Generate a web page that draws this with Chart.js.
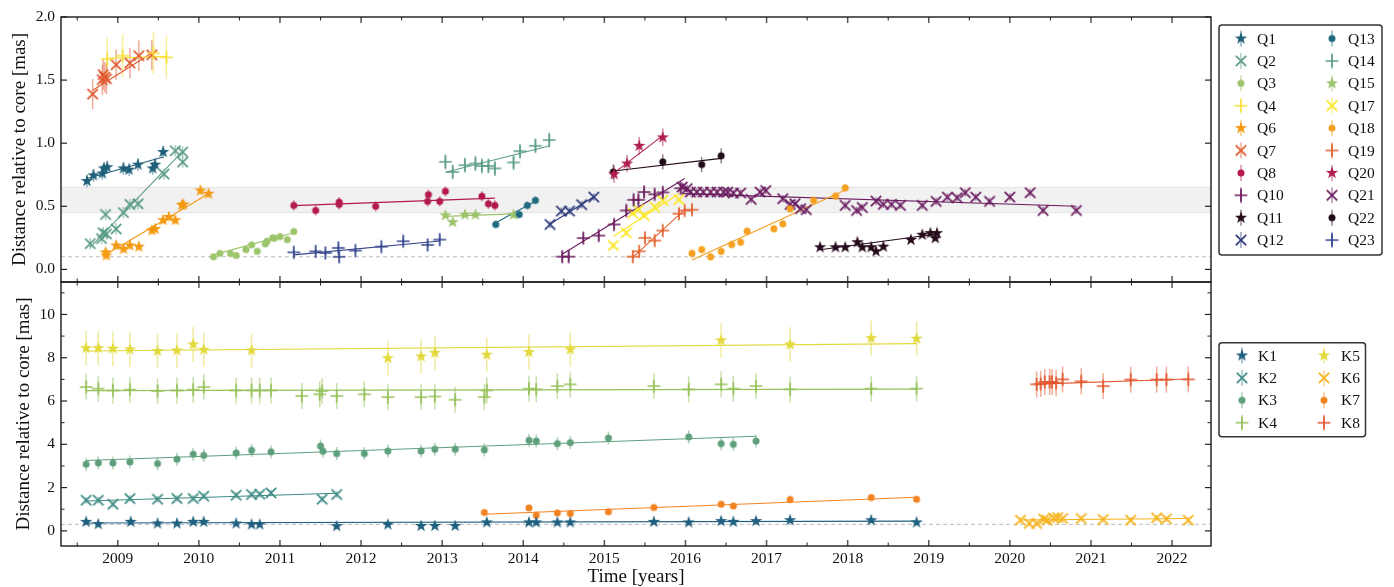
<!DOCTYPE html>
<html>
<head>
<meta charset="utf-8">
<script src="https://cdn.jsdelivr.net/npm/chart.js@4.4.1/dist/chart.umd.min.js"></script>
<style>
  html, body { margin: 0; padding: 0; background: #fff; }
  #wrap { position: relative; width: 1394px; height: 587px; overflow: hidden; }
  canvas { position: absolute; left: 0; }
  #top { top: 0; }
  #bottom { top: 280px; }
</style>
</head>
<body>
<div id="wrap">
  <canvas id="top" width="1394" height="284"></canvas>
  <canvas id="bottom" width="1394" height="307"></canvas>
</div>
<script>
// ---- data: epoch [years], distance [mas], fit = [t0, d0, t1, d1] ----
const q1Year = [2008.62, 2008.70, 2008.81, 2008.83, 2008.87, 2009.07, 2009.14, 2009.25, 2009.43, 2009.46, 2009.56];
const q1Dist = [0.70, 0.745, 0.76, 0.80, 0.81, 0.80, 0.79, 0.83, 0.80, 0.83, 0.93];
const q1Fit = [2008.62, 0.72, 2009.56, 0.89];

const q2Year = [2008.66, 2008.80, 2008.82, 2008.85, 2008.86, 2008.98, 2009.07, 2009.15, 2009.25, 2009.57, 2009.71, 2009.80, 2009.80];
const q2Dist = [0.204, 0.244, 0.29, 0.435, 0.28, 0.32, 0.45, 0.515, 0.52, 0.755, 0.94, 0.93, 0.85];
const q2Fit = [2008.66, 0.175, 2009.80, 0.935];

const q3Year = [2010.18, 2010.26, 2010.39, 2010.46, 2010.58, 2010.65, 2010.72, 2010.82, 2010.84, 2010.91, 2010.93, 2011.00, 2011.09, 2011.17];
const q3Dist = [0.10, 0.127, 0.127, 0.11, 0.157, 0.194, 0.143, 0.202, 0.223, 0.25, 0.247, 0.26, 0.236, 0.30];
const q3Fit = [2010.18, 0.115, 2011.17, 0.29];

const q4Year = [2008.87, 2009.06, 2009.44, 2009.60];
const q4Dist = [1.667, 1.693, 1.713, 1.68];
const q4Fit = [2008.87, 1.672, 2009.60, 1.688];

const q6Year = [2008.85, 2008.86, 2008.98, 2009.07, 2009.15, 2009.26, 2009.42, 2009.46, 2009.56, 2009.63, 2009.71, 2009.79, 2009.81, 2010.02, 2010.12];
const q6Dist = [0.135, 0.11, 0.19, 0.162, 0.19, 0.18, 0.31, 0.32, 0.39, 0.415, 0.39, 0.51, 0.515, 0.625, 0.60];
const q6Fit = [2008.86, 0.12, 2010.12, 0.60];

const q7Year = [2008.69, 2008.81, 2008.82, 2008.84, 2008.86, 2008.98, 2009.15, 2009.26, 2009.42];
const q7Dist = [1.389, 1.503, 1.543, 1.524, 1.51, 1.622, 1.635, 1.693, 1.70];
const q7Fit = [2008.69, 1.42, 2009.42, 1.715];

const q8Year = [2011.17, 2011.44, 2011.73, 2011.73, 2012.18, 2012.82, 2012.83, 2012.97, 2013.04, 2013.49, 2013.57, 2013.65];
const q8Dist = [0.507, 0.467, 0.533, 0.515, 0.50, 0.539, 0.592, 0.539, 0.619, 0.58, 0.52, 0.507];
const q8Fit = [2011.17, 0.505, 2013.65, 0.565];

const q10Year = [2014.48, 2014.56, 2014.74, 2014.93, 2015.12, 2015.27, 2015.36, 2015.42, 2015.49, 2015.62, 2015.72, 2015.94];
const q10Dist = [0.101, 0.101, 0.248, 0.268, 0.356, 0.467, 0.551, 0.551, 0.613, 0.595, 0.61, 0.643];
const q10Fit = [2014.48, 0.12, 2015.99, 0.72];

const q11Year = [2017.66, 2017.85, 2017.97, 2018.12, 2018.18, 2018.29, 2018.35, 2018.44, 2018.78, 2018.92, 2019.02, 2019.08, 2019.10];
const q11Dist = [0.175, 0.175, 0.175, 0.215, 0.175, 0.175, 0.143, 0.18, 0.234, 0.274, 0.287, 0.247, 0.287];
const q11Fit = [2017.66, 0.155, 2019.10, 0.28];

const q12Year = [2014.33, 2014.47, 2014.57, 2014.72, 2014.87];
const q12Dist = [0.356, 0.462, 0.462, 0.513, 0.573];
const q12Fit = [2014.33, 0.36, 2014.87, 0.575];

const q13Year = [2013.66, 2013.95, 2014.05, 2014.15];
const q13Dist = [0.356, 0.435, 0.507, 0.547];
const q13Fit = [2013.66, 0.37, 2014.15, 0.54];

const q14Year = [2013.04, 2013.13, 2013.28, 2013.41, 2013.49, 2013.57, 2013.65, 2013.88, 2013.96, 2014.15, 2014.32];
const q14Dist = [0.852, 0.772, 0.826, 0.839, 0.82, 0.82, 0.80, 0.847, 0.937, 0.979, 1.025];
const q14Fit = [2013.04, 0.77, 2014.33, 0.98];

const q15Year = [2013.04, 2013.13, 2013.28, 2013.41, 2013.88];
const q15Dist = [0.428, 0.374, 0.433, 0.433, 0.433];
const q15Fit = [2013.04, 0.42, 2013.88, 0.44];

const q17Year = [2015.11, 2015.27, 2015.35, 2015.42, 2015.49, 2015.62, 2015.72, 2015.92];
const q17Dist = [0.189, 0.29, 0.446, 0.473, 0.428, 0.494, 0.547, 0.553];
const q17Fit = [2015.11, 0.26, 2015.92, 0.60];

const q18Year = [2016.08, 2016.20, 2016.31, 2016.44, 2016.57, 2016.68, 2016.76, 2017.09, 2017.20, 2017.29, 2017.58, 2017.85, 2017.97];
const q18Dist = [0.127, 0.157, 0.10, 0.143, 0.197, 0.215, 0.303, 0.322, 0.361, 0.48, 0.547, 0.581, 0.646];
const q18Fit = [2016.08, 0.075, 2017.97, 0.63];

const q19Year = [2015.35, 2015.43, 2015.50, 2015.62, 2015.72, 2015.92, 2015.99, 2016.08];
const q19Dist = [0.101, 0.143, 0.25, 0.228, 0.308, 0.441, 0.467, 0.473];
const q19Fit = [2015.35, 0.095, 2016.00, 0.48];

const q20Year = [2015.12, 2015.28, 2015.43, 2015.72];
const q20Dist = [0.754, 0.839, 0.979, 1.046];
const q20Fit = [2015.12, 0.765, 2015.72, 1.06];

const q21Year = [2015.96, 2016.02, 2016.06, 2016.14, 2016.22, 2016.31, 2016.39, 2016.47, 2016.52, 2016.59, 2016.68, 2016.81, 2016.92, 2016.99,
  2017.20, 2017.29, 2017.35, 2017.42, 2017.49, 2017.97, 2018.11, 2018.18, 2018.35, 2018.44, 2018.54, 2018.65, 2018.92, 2019.09,
  2019.23, 2019.35, 2019.45, 2019.58, 2019.75, 2020.00, 2020.25, 2020.41, 2020.82];
const q21Dist = [0.653, 0.64, 0.613, 0.613, 0.613, 0.613, 0.613, 0.613, 0.613, 0.605, 0.605, 0.555, 0.613, 0.625,
  0.56, 0.515, 0.52, 0.481, 0.473, 0.507, 0.467, 0.49, 0.541, 0.515, 0.515, 0.507, 0.507, 0.539,
  0.573, 0.568, 0.608, 0.573, 0.539, 0.573, 0.608, 0.467, 0.467];
const q21Fit = [2015.96, 0.60, 2020.82, 0.50];

const q22Year = [2015.11, 2015.72, 2016.20, 2016.44];
const q22Dist = [0.772, 0.852, 0.831, 0.90];
const q22Fit = [2015.11, 0.78, 2016.44, 0.88];

const q23Year = [2011.17, 2011.44, 2011.56, 2011.72, 2011.73, 2011.93, 2012.25, 2012.52, 2012.82, 2012.97];
const q23Dist = [0.135, 0.143, 0.13, 0.17, 0.10, 0.149, 0.18, 0.223, 0.194, 0.236];
const q23Fit = [2011.17, 0.115, 2012.97, 0.225];

const k1Year = [2008.61, 2008.76, 2009.16, 2009.49, 2009.73, 2009.93, 2010.06, 2010.46, 2010.65, 2010.75, 2011.70, 2012.33, 2012.74, 2012.91,
  2013.16, 2013.55, 2014.07, 2014.16, 2014.42, 2014.58, 2015.61, 2016.04, 2016.44, 2016.59, 2016.87, 2017.29, 2018.29, 2018.85];
const k1Dist = [0.415, 0.31, 0.415, 0.34, 0.34, 0.415, 0.415, 0.34, 0.295, 0.295, 0.217, 0.295, 0.23, 0.23,
  0.23, 0.39, 0.39, 0.39, 0.39, 0.39, 0.415, 0.39, 0.45, 0.415, 0.45, 0.49, 0.49, 0.39];
const k1Fit = [2008.61, 0.36, 2018.85, 0.45];

const k2Year = [2008.61, 2008.76, 2008.94, 2009.15, 2009.49, 2009.73, 2009.93, 2010.06, 2010.46, 2010.65, 2010.75, 2010.89, 2011.52, 2011.70];
const k2Dist = [1.417, 1.417, 1.23, 1.495, 1.463, 1.495, 1.495, 1.60, 1.647, 1.68, 1.694, 1.754, 1.463, 1.68];
const k2Fit = [2008.61, 1.38, 2011.70, 1.74];

const k3Year = [2008.61, 2008.76, 2008.94, 2009.15, 2009.49, 2009.73, 2009.93, 2010.06, 2010.46, 2010.65, 2010.89, 2011.50, 2011.53, 2011.70,
  2012.04, 2012.33, 2012.74, 2012.91, 2013.16, 2013.52, 2014.07, 2014.16, 2014.42, 2014.58, 2015.05, 2016.04, 2016.44, 2016.59, 2016.87];
const k3Dist = [3.078, 3.138, 3.138, 3.184, 3.11, 3.31, 3.54, 3.49, 3.60, 3.72, 3.65, 3.92, 3.68, 3.57,
  3.57, 3.69, 3.69, 3.77, 3.77, 3.74, 4.185, 4.15, 4.03, 4.08, 4.29, 4.34, 4.03, 4.00, 4.15];
const k3Fit = [2008.61, 3.25, 2016.87, 4.37];

const k4Year = [2008.61, 2008.76, 2008.94, 2009.15, 2009.49, 2009.73, 2009.93, 2010.06, 2010.46, 2010.65, 2010.75, 2010.89, 2011.27, 2011.49,
  2011.52, 2011.70, 2012.04, 2012.33, 2012.74, 2012.91, 2013.16, 2013.52, 2013.55, 2014.07, 2014.16, 2014.42, 2014.58, 2015.61,
  2016.04, 2016.44, 2016.59, 2016.87, 2017.29, 2018.29, 2018.85];
const k4Dist = [6.645, 6.57, 6.49, 6.525, 6.46, 6.49, 6.525, 6.645, 6.49, 6.49, 6.49, 6.49, 6.23, 6.31,
  6.46, 6.23, 6.31, 6.18, 6.18, 6.21, 6.06, 6.18, 6.49, 6.57, 6.54, 6.69, 6.77, 6.69,
  6.54, 6.77, 6.57, 6.69, 6.54, 6.57, 6.57];
const k4Fit = [2008.61, 6.48, 2018.85, 6.55];

const k5Year = [2008.61, 2008.76, 2008.94, 2009.15, 2009.49, 2009.73, 2009.93, 2010.06, 2010.65, 2012.33, 2012.74, 2012.91, 2013.55,
  2014.07, 2014.58, 2016.44, 2017.29, 2018.29, 2018.85];
const k5Dist = [8.445, 8.445, 8.42, 8.385, 8.31, 8.34, 8.616, 8.37, 8.34, 7.98, 8.06, 8.23, 8.14,
  8.26, 8.385, 8.80, 8.616, 8.906, 8.88];
const k5Fit = [2008.61, 8.31, 2018.85, 8.65];

const k6Year = [2020.13, 2020.24, 2020.33, 2020.42, 2020.46, 2020.54, 2020.59, 2020.65, 2020.88, 2021.15, 2021.49, 2021.81, 2021.93, 2022.20];
const k6Dist = [0.494, 0.34, 0.34, 0.54, 0.494, 0.60, 0.62, 0.57, 0.57, 0.526, 0.494, 0.60, 0.554, 0.494];
const k6Fit = [2020.13, 0.50, 2022.20, 0.57];

const k7Year = [2013.52, 2014.07, 2014.16, 2014.42, 2014.58, 2015.05, 2015.61, 2016.44, 2016.59, 2017.29, 2018.29, 2018.85];
const k7Dist = [0.85, 1.06, 0.72, 0.83, 0.80, 0.88, 1.08, 1.23, 1.15, 1.45, 1.54, 1.46];
const k7Fit = [2013.52, 0.77, 2018.85, 1.55];

const k8Year = [2020.33, 2020.38, 2020.43, 2020.49, 2020.52, 2020.57, 2020.65, 2020.88, 2021.15, 2021.49, 2021.81, 2021.93, 2022.20];
const k8Dist = [6.77, 6.80, 6.88, 6.88, 6.88, 6.83, 7.00, 6.91, 6.69, 6.99, 6.99, 6.99, 7.00];
const k8Fit = [2020.33, 6.78, 2022.20, 7.02];

// typical 1-sigma error per component [mas]
const qNames = ['Q1', 'Q2', 'Q3', 'Q4', 'Q6', 'Q7', 'Q8', 'Q10', 'Q11', 'Q12', 'Q13', 'Q14', 'Q15', 'Q17', 'Q18', 'Q19', 'Q20', 'Q21', 'Q22', 'Q23'];
const qErrors = [0.05, 0.045, 0.02, 0.17, 0.035, 0.12, 0.04, 0.035, 0.02, 0.03, 0.03, 0.06, 0.02, 0.025, 0.03, 0.02, 0.07, 0.03, 0.06, 0.02];
const kNames = ['K1', 'K2', 'K3', 'K4', 'K5', 'K6', 'K7', 'K8'];
const kErrors = [0.12, 0.15, 0.3, 0.6, 0.8, 0.15, 0.1, 0.6];

const yearTicks = [2009, 2010, 2011, 2012, 2013, 2014, 2015, 2016, 2017, 2018, 2019, 2020, 2021, 2022];
const topTicks = [0, 0.5, 1.0, 1.5, 2.0];
const bottomTicks = [0, 2, 4, 6, 8, 10];
const bottomMinor = [1, 3, 5, 7, 9, 11];

// ---- styles ----
const qColors = ['#1f6079', '#5a9b87', '#9cc46a', '#f7e03a', '#f49a12', '#e0592e', '#b3194c', '#6b1c5e', '#260b1c', '#2e3a7c',
  '#1f6a7e', '#5b9d86', '#9cc36a', '#fde725', '#f5a020', '#e3602e', '#b01e50', '#6a1b5f', '#200c18', '#34468f'];
const kColors = ['#1f5f7f', '#3d8c84', '#5e9f7c', '#95c25a', '#e2d93c', '#f6b21a', '#f28321', '#e3572e'];
const shapes = ['star', 'x', 'dot', 'plus'];

const FONT = '"Liberation Serif", "DejaVu Serif", serif';
Chart.defaults.font.family = FONT;
Chart.defaults.color = '#111';

function fade(hex, a) {
  const n = parseInt(hex.slice(1), 16);
  return 'rgba(' + (n >> 16) + ',' + ((n >> 8) & 255) + ',' + (n & 255) + ',' + a + ')';
}

// marker drawn once into a small canvas, then used as pointStyle
function makeMarker(shape, color) {
  const size = 16;
  const c = document.createElement('canvas');
  c.width = c.height = size;
  const g = c.getContext('2d');
  g.translate(size / 2, size / 2);
  g.fillStyle = color;
  g.strokeStyle = color;
  g.lineWidth = 1.7;
  if (shape === 'star') {
    g.beginPath();
    for (let i = 0; i < 10; i++) {
      const r = i % 2 ? 2.6 : 6.5;
      const a = -Math.PI / 2 + i * Math.PI / 5;
      g.lineTo(r * Math.cos(a), r * Math.sin(a));
    }
    g.closePath();
    g.fill();
  } else if (shape === 'x') {
    g.beginPath();
    g.moveTo(-5.2, -5.2); g.lineTo(5.2, 5.2);
    g.moveTo(-5.2, 5.2); g.lineTo(5.2, -5.2);
    g.stroke();
  } else if (shape === 'plus') {
    g.beginPath();
    g.moveTo(-6.4, 0); g.lineTo(6.4, 0);
    g.moveTo(0, -6.4); g.lineTo(0, 6.4);
    g.stroke();
  } else {
    g.beginPath();
    g.arc(0, 0, 3.5, 0, Math.PI * 2);
    g.fill();
  }
  return c;
}

function buildDatasets(names, years, dists, fits, errs, colors) {
  const out = [];
  names.forEach((name, i) => {
    out.push({
      label: name,
      data: years[i].map((t, j) => ({ x: t, y: dists[i][j] })),
      pointStyle: makeMarker(shapes[i % 4], colors[i]),
      pointRadius: 5,
      err: errs[i],
      errColor: fade(colors[i], 0.5),
      order: 0
    });
    const f = fits[i];
    out.push({
      label: '',
      data: [{ x: f[0], y: f[1] }, { x: f[2], y: f[3] }],
      showLine: true,
      borderColor: colors[i],
      borderWidth: 1.1,
      pointRadius: 0,
      order: 1
    });
  });
  return out;
}

const topDatasets = buildDatasets(qNames,
  [q1Year, q2Year, q3Year, q4Year, q6Year, q7Year, q8Year, q10Year, q11Year, q12Year, q13Year, q14Year, q15Year, q17Year, q18Year, q19Year, q20Year, q21Year, q22Year, q23Year],
  [q1Dist, q2Dist, q3Dist, q4Dist, q6Dist, q7Dist, q8Dist, q10Dist, q11Dist, q12Dist, q13Dist, q14Dist, q15Dist, q17Dist, q18Dist, q19Dist, q20Dist, q21Dist, q22Dist, q23Dist],
  [q1Fit, q2Fit, q3Fit, q4Fit, q6Fit, q7Fit, q8Fit, q10Fit, q11Fit, q12Fit, q13Fit, q14Fit, q15Fit, q17Fit, q18Fit, q19Fit, q20Fit, q21Fit, q22Fit, q23Fit],
  qErrors, qColors);

const bottomDatasets = buildDatasets(kNames,
  [k1Year, k2Year, k3Year, k4Year, k5Year, k6Year, k7Year, k8Year],
  [k1Dist, k2Dist, k3Dist, k4Dist, k5Dist, k6Dist, k7Dist, k8Dist],
  [k1Fit, k2Fit, k3Fit, k4Fit, k5Fit, k6Fit, k7Fit, k8Fit],
  kErrors, kColors);

// ---- plugins ----
const guides = {
  id: 'guides',
  beforeDatasetsDraw(chart, args, o) {
    const { ctx, chartArea: a, scales: { y } } = chart;
    ctx.save();
    if (o.band) {
      const y1 = y.getPixelForValue(o.band[1]), y0 = y.getPixelForValue(o.band[0]);
      ctx.fillStyle = '#f1f1f1';
      ctx.fillRect(a.left, y1, a.right - a.left, y0 - y1);
      ctx.strokeStyle = '#e2e2e2';
      ctx.lineWidth = 1;
      ctx.beginPath();
      ctx.moveTo(a.left, y1); ctx.lineTo(a.right, y1);
      ctx.moveTo(a.left, y0); ctx.lineTo(a.right, y0);
      ctx.stroke();
    }
    const yd = y.getPixelForValue(o.dash);
    ctx.strokeStyle = '#bdbdbd';
    ctx.lineWidth = 1;
    ctx.setLineDash([4, 3]);
    ctx.beginPath();
    ctx.moveTo(a.left, yd); ctx.lineTo(a.right, yd);
    ctx.stroke();
    ctx.restore();
  }
};

const errorBars = {
  id: 'errorBars',
  beforeDatasetsDraw(chart) {
    const { ctx, chartArea: a, scales: { x, y } } = chart;
    ctx.save();
    ctx.beginPath();
    ctx.rect(a.left, a.top, a.right - a.left, a.bottom - a.top);
    ctx.clip();
    ctx.lineWidth = 1.5;
    chart.data.datasets.forEach(ds => {
      if (!ds.err) return;
      ctx.strokeStyle = ds.errColor;
      ds.data.forEach(p => {
        const px = x.getPixelForValue(p.x);
        ctx.beginPath();
        ctx.moveTo(px, y.getPixelForValue(p.y - ds.err));
        ctx.lineTo(px, y.getPixelForValue(p.y + ds.err));
        ctx.stroke();
      });
    });
    ctx.restore();
  }
};

const frame = {
  id: 'frame',
  afterDatasetsDraw(chart, args, o) {
    const { ctx, chartArea: a, scales: { x, y } } = chart;
    ctx.save();
    const seg = (x0, y0, x1, y1) => { ctx.beginPath(); ctx.moveTo(x0, y0); ctx.lineTo(x1, y1); ctx.stroke(); };
    for (let v = Math.ceil(x.min * 2) / 2; v <= x.max; v += 0.5) {
      const px = x.getPixelForValue(v);
      const major = Math.abs(v - Math.round(v)) < 1e-6;
      const len = major ? 6 : 3.5;
      ctx.strokeStyle = major ? '#555' : '#222';
      ctx.lineWidth = major ? 1.5 : 1;
      seg(px, a.bottom, px, a.bottom - len);
      seg(px, a.top, px, a.top + len);
    }
    const yt = (list, len) => list.forEach(v => {
      const py = y.getPixelForValue(v);
      seg(a.left, py, a.left + len, py);
      seg(a.right, py, a.right - len, py);
    });
    ctx.strokeStyle = '#222';
    ctx.lineWidth = 1.2;
    yt(o.major, 6);
    ctx.lineWidth = 1;
    yt(o.minor || [], 3.5);
    ctx.strokeStyle = '#1a1a1a';
    ctx.lineWidth = 1.4;
    ctx.strokeRect(a.left, a.top, a.right - a.left, a.bottom - a.top);
    ctx.restore();
  }
};

const legendBox = {
  id: 'legendBox',
  afterDraw(chart, args, o) {
    const { ctx } = chart;
    const b = o.box;
    ctx.save();
    ctx.fillStyle = '#fff';
    ctx.strokeStyle = '#333';
    ctx.lineWidth = 1.5;
    ctx.beginPath();
    ctx.roundRect(b[0], b[1], b[2], b[3], 3);
    ctx.fill();
    ctx.stroke();
    ctx.font = '15.5px ' + FONT;
    ctx.textBaseline = 'middle';
    const items = chart.data.datasets.filter(ds => ds.err);
    items.forEach((ds, i) => {
      const col = Math.floor(i / o.rows), row = i % o.rows;
      const mx = o.markerX[col], my = o.firstRow + row * o.rowGap;
      ctx.strokeStyle = ds.errColor;
      ctx.lineWidth = 1.5;
      ctx.beginPath();
      ctx.moveTo(mx, my - 8); ctx.lineTo(mx, my + 8);
      ctx.stroke();
      const m = ds.pointStyle;
      ctx.drawImage(m, mx - m.width / 2, my - m.height / 2);
      ctx.fillStyle = '#111';
      ctx.fillText(ds.label, o.textX[col], my + 1);
    });
    ctx.restore();
  }
};

// keep the plot area exactly where the axes box puts it
const noPad = s => { s.paddingTop = 0; s.paddingBottom = 0; s.paddingLeft = 0; s.paddingRight = 0; };

const yTitle = (pad) => ({
  display: true,
  text: 'Distance relative to core [mas]',
  font: { size: 19, family: FONT },
  color: '#111',
  padding: { top: pad, bottom: 0 }
});

// ---- top panel: Q components ----
new Chart(document.getElementById('top'), {
  type: 'scatter',
  data: { datasets: topDatasets },
  options: {
    responsive: false,
    animation: false,
    layout: { autoPadding: false, padding: { top: 17, right: 183, bottom: 2, left: 0 } },
    plugins: {
      legend: { display: false },
      tooltip: { enabled: false },
      guides: { band: [0.45, 0.65], dash: 0.1 },
      frame: { major: topTicks },
      legendBox: { box: [1219, 25, 163, 230], rows: 10, firstRow: 38.5, rowGap: 22.4, markerX: [1241, 1332], textX: [1257, 1348] }
    },
    scales: {
      x: { type: 'linear', min: 2008.3, max: 2022.48, display: false },
      y: {
        min: -0.1, max: 2.0,
        afterFit: s => { s.width = 61; noPad(s); },
        afterBuildTicks: s => { s.ticks = topTicks.map(v => ({ value: v })); },
        ticks: { callback: v => v.toFixed(1), font: { size: 15.5 }, color: '#111', padding: 6 },
        grid: { display: false, drawTicks: false },
        border: { display: false },
        title: yTitle(9)
      }
    }
  },
  plugins: [guides, errorBars, frame, legendBox]
});

// ---- bottom panel: K components ----
new Chart(document.getElementById('bottom'), {
  type: 'scatter',
  data: { datasets: bottomDatasets },
  options: {
    responsive: false,
    animation: false,
    layout: { autoPadding: false, padding: { top: 2, right: 183, bottom: 0, left: 0 } },
    plugins: {
      legend: { display: false },
      tooltip: { enabled: false },
      guides: { dash: 0.3 },
      frame: { major: bottomTicks, minor: bottomMinor },
      legendBox: { box: [1219, 62.7, 146.5, 94], rows: 4, firstRow: 75.5, rowGap: 22.4, markerX: [1242, 1324], textX: [1258, 1341] }
    },
    scales: {
      x: {
        type: 'linear', min: 2008.3, max: 2022.48,
        afterFit: s => { s.height = 41; noPad(s); },
        afterBuildTicks: s => { s.ticks = yearTicks.map(v => ({ value: v })); },
        ticks: { callback: v => String(v), font: { size: 15.5 }, color: '#111', padding: 4, maxRotation: 0, autoSkip: false },
        grid: { display: false, drawTicks: false },
        border: { display: false },
        title: { display: true, text: 'Time [years]', font: { size: 19, family: FONT }, color: '#111', padding: { top: 0, bottom: -1 } }
      },
      y: {
        min: -0.7, max: 11.5,
        afterFit: s => { s.width = 61; noPad(s); },
        afterBuildTicks: s => { s.ticks = bottomTicks.map(v => ({ value: v })); },
        ticks: { callback: v => String(v), font: { size: 15.5 }, color: '#111', padding: 6 },
        grid: { display: false, drawTicks: false },
        border: { display: false },
        title: yTitle(13)
      }
    }
  },
  plugins: [guides, errorBars, frame, legendBox]
});
</script>
</body>
</html>
